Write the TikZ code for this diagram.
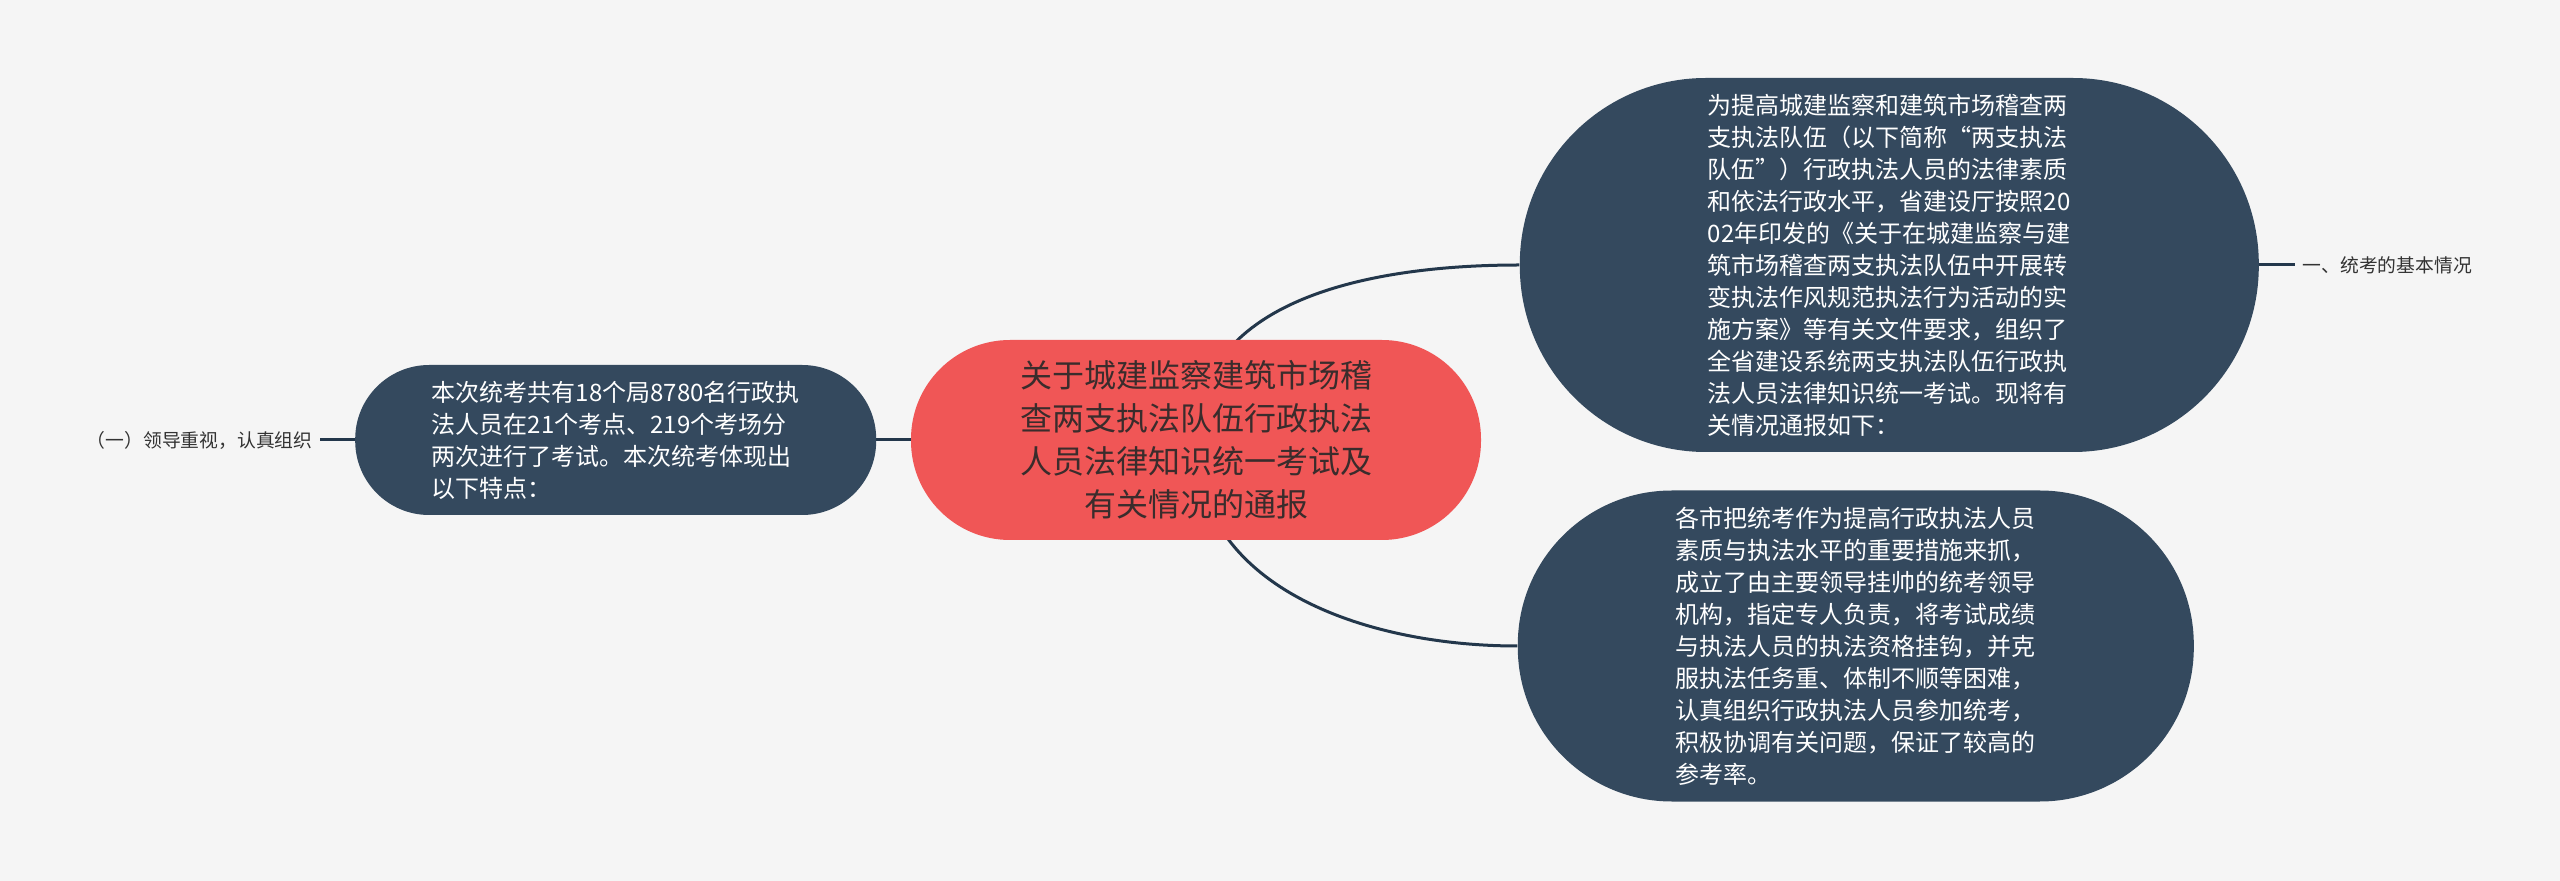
\documentclass[tikz,border=0pt]{standalone}
\usepackage{fontspec}
\newfontfamily\cjk{Noto Sans CJK SC}
\usepackage{tikz}
\usetikzlibrary{positioning, backgrounds}
\usepackage{xcolor}
\definecolor{bgcol}{HTML}{F5F5F5}
\definecolor{navy}{HTML}{34495E}
\definecolor{wire}{HTML}{23374B}
\definecolor{coral}{HTML}{F05656}
\definecolor{ink}{HTML}{3A2C2C}
\definecolor{tagink}{HTML}{333333}

\begin{document}
\begin{tikzpicture}[
  topic/.style={fill=coral, text=ink, align=center, inner sep=0pt, font={\cjk\fontsize{16}{21.5}\selectfont}},
  box/.style={fill=navy, text=white, align=left, inner sep=0pt, font={\cjk\fontsize{12}{16}\selectfont}},
  tag/.style={text=tagink, inner sep=3.5pt, font={\cjk\fontsize{9.4}{11}\selectfont}},
  line/.style={line width=1.5pt, draw=wire}
]

  \useasboundingbox (0,0) rectangle (1280pt,-440.5pt);

  % Sujet central
  \node[topic, minimum width=285pt, minimum height=100pt, rounded corners=49.5pt] (center) at (598pt,-220pt) {关于城建监察建筑市场稽\\查两支执法队伍行政执法\\人员法律知识统一考试及\\有关情况的通报};

  % Branche gauche
  \node[box, left=17pt of center, minimum width=260.5pt, minimum height=75pt, rounded corners=37pt] (count) {本次统考共有18个局8780名行政执\\法人员在21个考点、219个考场分\\两次进行了考试。本次统考体现出\\以下特点：};
  \node[tag, left=17.5pt of count] (leadTag) {（一）领导重视，认真组织};

  % Branches droites
  \node[box, right=19pt of center, yshift=87.5pt, minimum width=369.5pt, minimum height=187pt, rounded corners=93pt] (basic) {为提高城建监察和建筑市场稽查两\\支执法队伍（以下简称“两支执法\\队伍”）行政执法人员的法律素质\\和依法行政水平，省建设厅按照20\\02年印发的《关于在城建监察与建\\筑市场稽查两支执法队伍中开展转\\变执法作风规范执法行为活动的实\\施方案》等有关文件要求，组织了\\全省建设系统两支执法队伍行政执\\法人员法律知识统一考试。现将有\\关情况通报如下：};
  \node[tag, right=18pt of basic] (basicTag) {一、统考的基本情况};

  \node[box, right=19.5pt of center, yshift=-103pt, minimum width=338pt, minimum height=155.5pt, rounded corners=77pt, xshift=-1.5pt] (org) {各市把统考作为提高行政执法人员\\素质与执法水平的重要措施来抓，\\成立了由主要领导挂帅的统考领导\\机构，指定专人负责，将考试成绩\\与执法人员的执法资格挂钩，并克\\服执法任务重、体制不顺等困难，\\认真组织行政执法人员参加统考，\\积极协调有关问题，保证了较高的\\参考率。};

  % Liens
  \begin{scope}[on background layer]
    \fill[bgcol] (0,0) rectangle (1280pt,-440.5pt);
    \draw[line] (center.center) to[out=90, in=180] (basic.west);
    \draw[line] (center.center) to[out=-90, in=180] (org.west);
    \draw[line] (center.center) -- (count.center);
  \end{scope}
  \draw[line] (basic.east) -- (basicTag.west);
  \draw[line] (count.west) -- (leadTag.east);

\end{tikzpicture}
\end{document}
